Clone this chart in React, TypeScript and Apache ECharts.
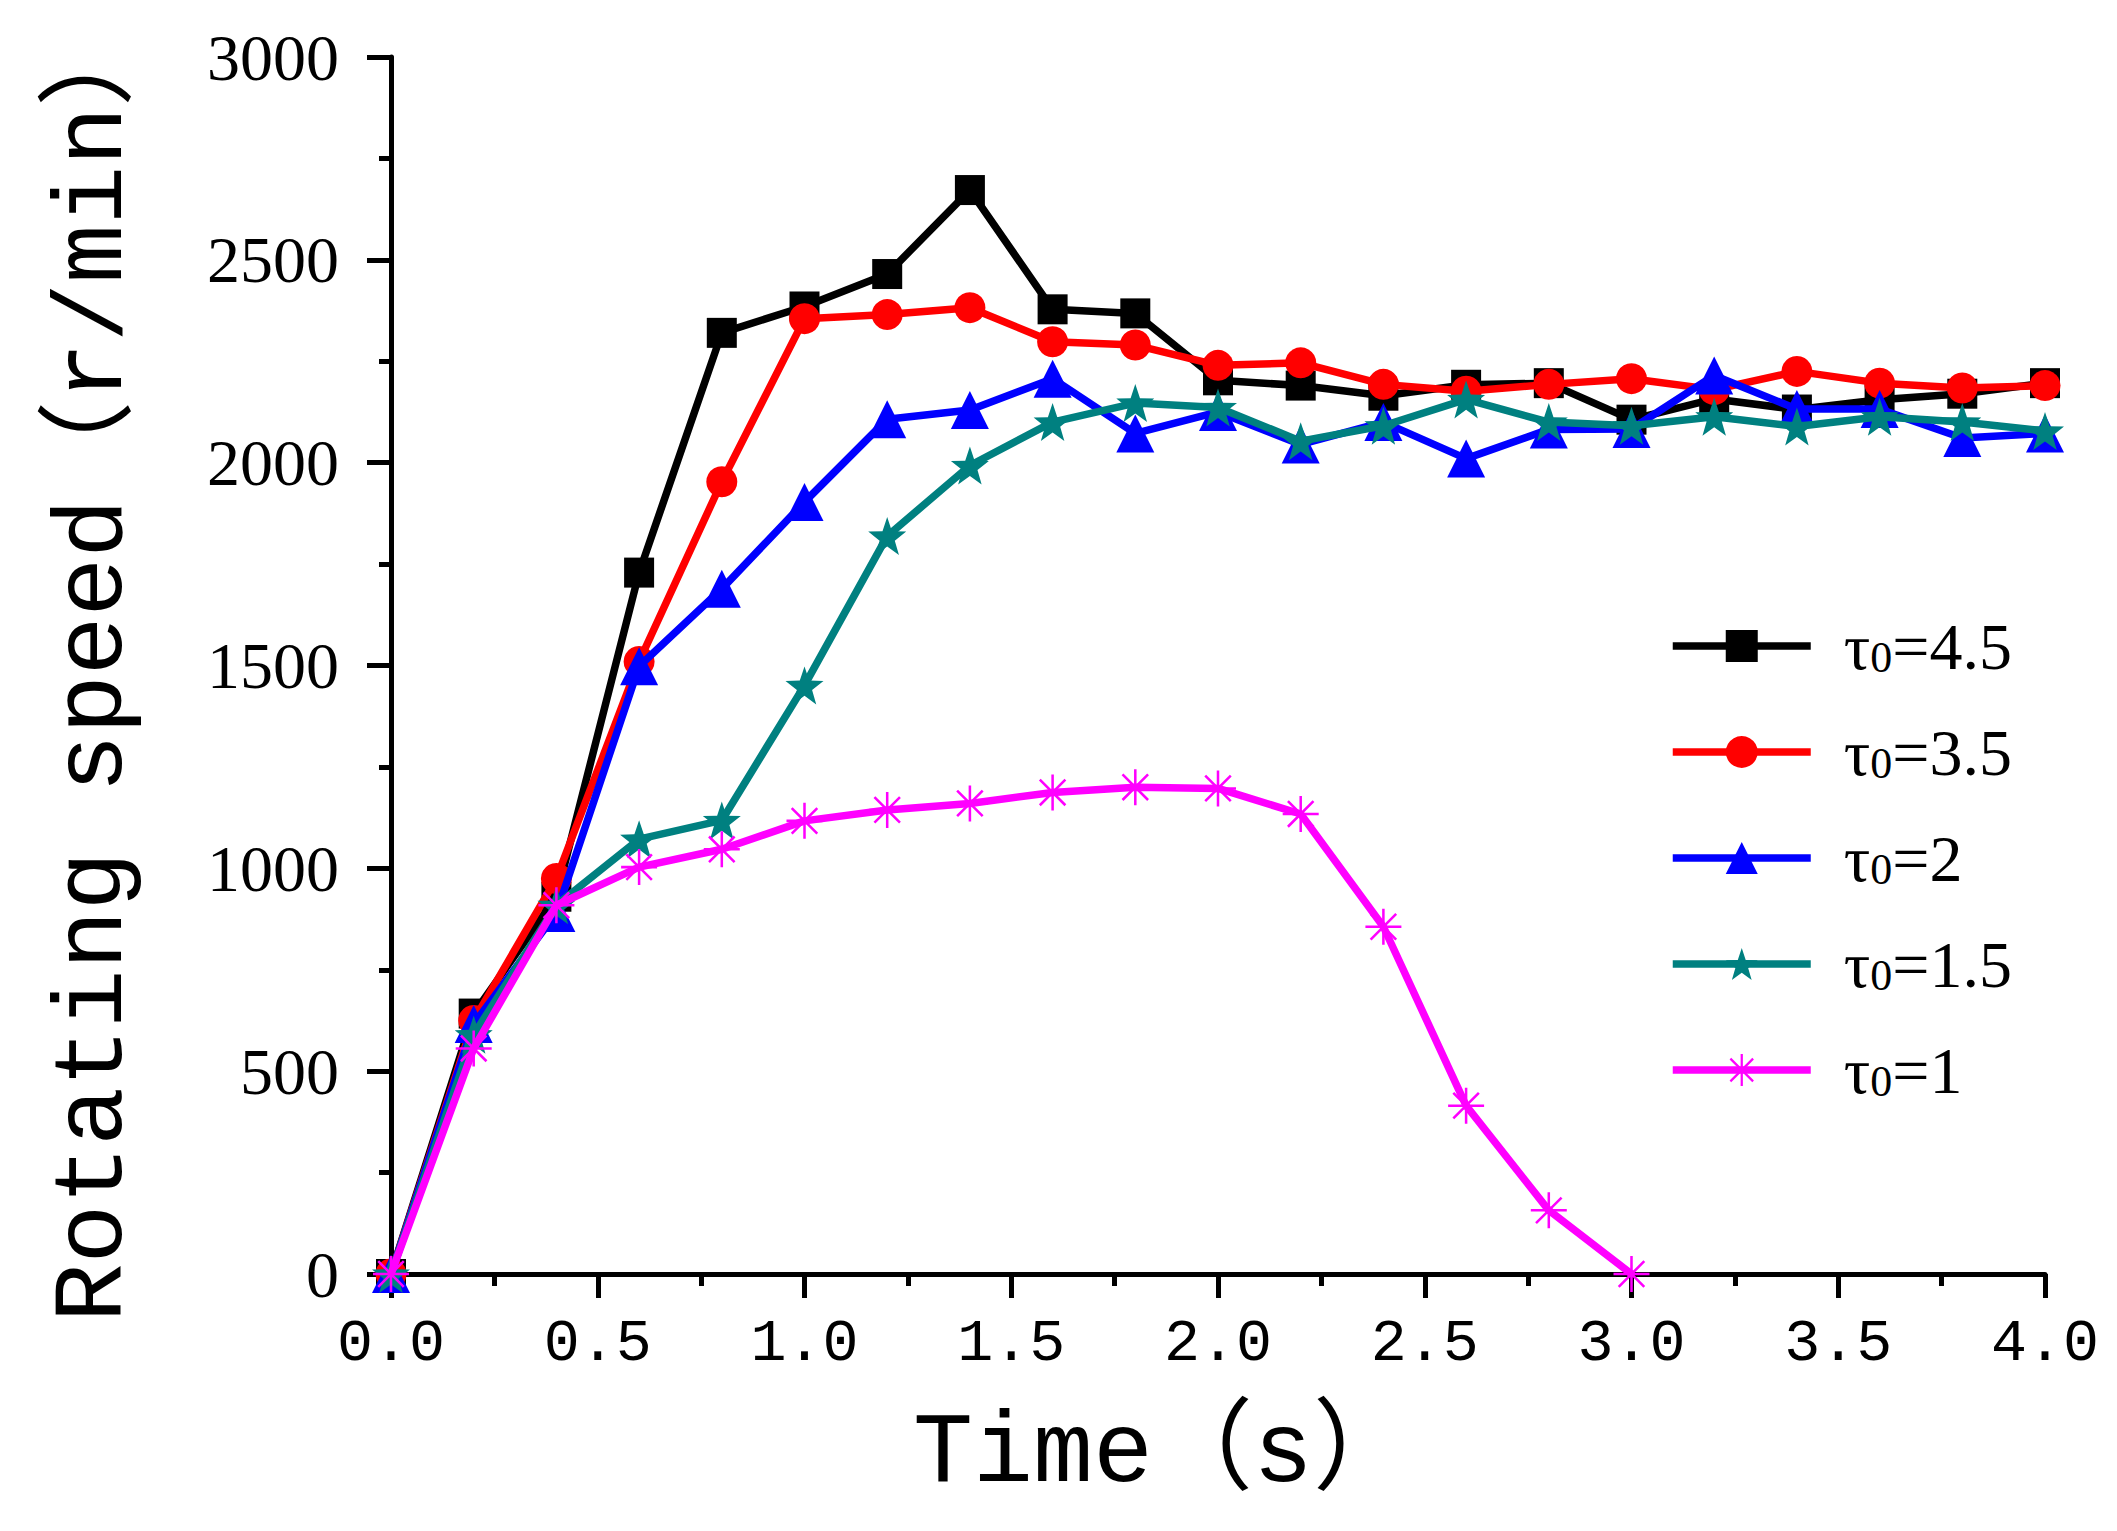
import { useEffect, useRef } from 'react'
import * as echarts from 'echarts'

const times = [0, 0.2, 0.4, 0.6, 0.8, 1.0, 1.2, 1.4, 1.6, 1.8, 2.0, 2.2, 2.4, 2.6, 2.8, 3.0, 3.2, 3.4, 3.6, 3.8, 4.0]

const tauLabels = ['4.5', '3.5', '2', '1.5', '1']

const speedTau45 = [0, 642, 930, 1729, 2320, 2385, 2465, 2672, 2378, 2368, 2203, 2190, 2165, 2192, 2196, 2106, 2157, 2131, 2155, 2170, 2196]
const speedTau35 = [0, 625, 975, 1510, 1953, 2355, 2365, 2382, 2298, 2290, 2240, 2246, 2193, 2176, 2193, 2207, 2180, 2225, 2196, 2184, 2190]
const speedTau2 = [0, 616, 890, 1498, 1689, 1903, 2107, 2130, 2207, 2072, 2125, 2045, 2100, 2010, 2082, 2083, 2215, 2132, 2132, 2061, 2072]
const speedTau15 = [0, 590, 909, 1072, 1118, 1451, 1819, 1993, 2100, 2147, 2136, 2053, 2091, 2156, 2100, 2091, 2113, 2089, 2113, 2100, 2078]
const speedTau1 = [0, 556, 909, 1003, 1047, 1117, 1144, 1160, 1187, 1200, 1197, 1134, 856, 415, 157, 0]

const colors = ['#000000', '#ff0000', '#0000ff', '#008080', '#ff00ff']

const starPath =
  'path://M0,-10 L2.35,-3.24 L9.51,-3.09 L3.8,1.24 L5.88,8.09 L0,4 L-5.88,8.09 L-3.8,1.24 L-9.51,-3.09 L-2.35,-3.24 Z'
const asteriskPath =
  'path://M-0.7,-10 L0.7,-10 L0.7,10 L-0.7,10 Z M-10,-0.7 L10,-0.7 L10,0.7 L-10,0.7 Z ' +
  'M-7.6,-6.6 L-6.6,-7.6 L7.6,6.6 L6.6,7.6 Z M6.6,-7.6 L7.6,-6.6 L-6.6,7.6 L-7.6,6.6 Z'

const symbols = ['rect', 'circle', 'triangle', starPath, asteriskPath]
const symbolSizes = [30, 31, 38, 38, 36]

export default function App() {
  const chartRef = useRef<HTMLDivElement>(null)

  useEffect(() => {
    if (!chartRef.current) return
    const chart = echarts.init(chartRef.current, undefined, { renderer: 'svg' })

    const allSeries = [speedTau45, speedTau35, speedTau2, speedTau15, speedTau1]

    chart.setOption({
      animation: false,
      backgroundColor: '#ffffff',
      grid: { left: 391, right: 72, top: 57, bottom: 257 },
      legend: {
        orient: 'vertical',
        left: 1664,
        top: 608,
        itemWidth: 138,
        itemHeight: 40,
        itemGap: 40,
        lineStyle: { width: 7.5 },
        data: tauLabels.map((l) => 'τ0=' + l),
        formatter: (name: string) => `{t|τ}{s|0}{t|=${name.slice(3)}}`,
        textStyle: {
          color: '#000',
          rich: {
            t: { fontFamily: 'Liberation Serif', fontSize: 66, color: '#000', lineHeight: 66 },
            s: { fontFamily: 'Liberation Serif', fontSize: 44, color: '#000', verticalAlign: 'bottom', lineHeight: 66, padding: [18, 0, 0, 0] },
          },
          padding: [0, 0, 0, 28],
        },
      },
      xAxis: {
        type: 'value',
        min: 0,
        max: 4,
        interval: 0.5,
        name: 'Time（s）',
        nameLocation: 'middle',
        nameGap: 130,
        nameTextStyle: {
          fontFamily: 'Liberation Mono, Noto Sans CJK SC',
          fontSize: 100,
          color: '#000',
          padding: [0, 110, 0, 0],
        },
        axisLine: { lineStyle: { color: '#000', width: 5 } },
        axisTick: { length: 24, lineStyle: { color: '#000', width: 5 } },
        minorTick: { show: true, splitNumber: 2, length: 12, lineStyle: { color: '#000', width: 5 } },
        splitLine: { show: false },
        axisLabel: {
          margin: 40,
          color: '#000',
          fontFamily: 'Liberation Mono',
          fontSize: 60,
          formatter: (v: number) => v.toFixed(1),
        },
      },
      yAxis: {
        type: 'value',
        min: 0,
        max: 3000,
        interval: 500,
        name: 'Rotating speed（r/min）',
        nameLocation: 'middle',
        nameGap: 248,
        nameTextStyle: { fontFamily: 'Liberation Mono, Noto Sans CJK SC', fontSize: 98, color: '#000' },
        axisLine: { show: true, lineStyle: { color: '#000', width: 5 } },
        axisTick: { show: true, length: 24, lineStyle: { color: '#000', width: 5 } },
        minorTick: { show: true, splitNumber: 2, length: 12, lineStyle: { color: '#000', width: 5 } },
        splitLine: { show: false },
        axisLabel: {
          margin: 52,
          color: '#000',
          fontFamily: 'Liberation Serif',
          fontSize: 66,
          formatter: (v: number) => String(v),
        },
      },
      series: allSeries.map((vals, i) => ({
        name: 'τ0=' + tauLabels[i],
        type: 'line',
        data: vals.map((v, j) => [times[j], v]),
        symbol: symbols[i],
        symbolSize: symbolSizes[i],
        showAllSymbol: true,
        lineStyle: { color: colors[i], width: 7.5 },
        itemStyle: { color: colors[i] },
        z: 2 + i,
      })),
    })

    return () => {
      chart.dispose()
    }
  }, [])

  return (
    <div
      ref={chartRef}
      style={{ position: 'fixed', left: 0, top: 0, width: '2117px', height: '1531px', background: '#fff' }}
    ></div>
  )
}
